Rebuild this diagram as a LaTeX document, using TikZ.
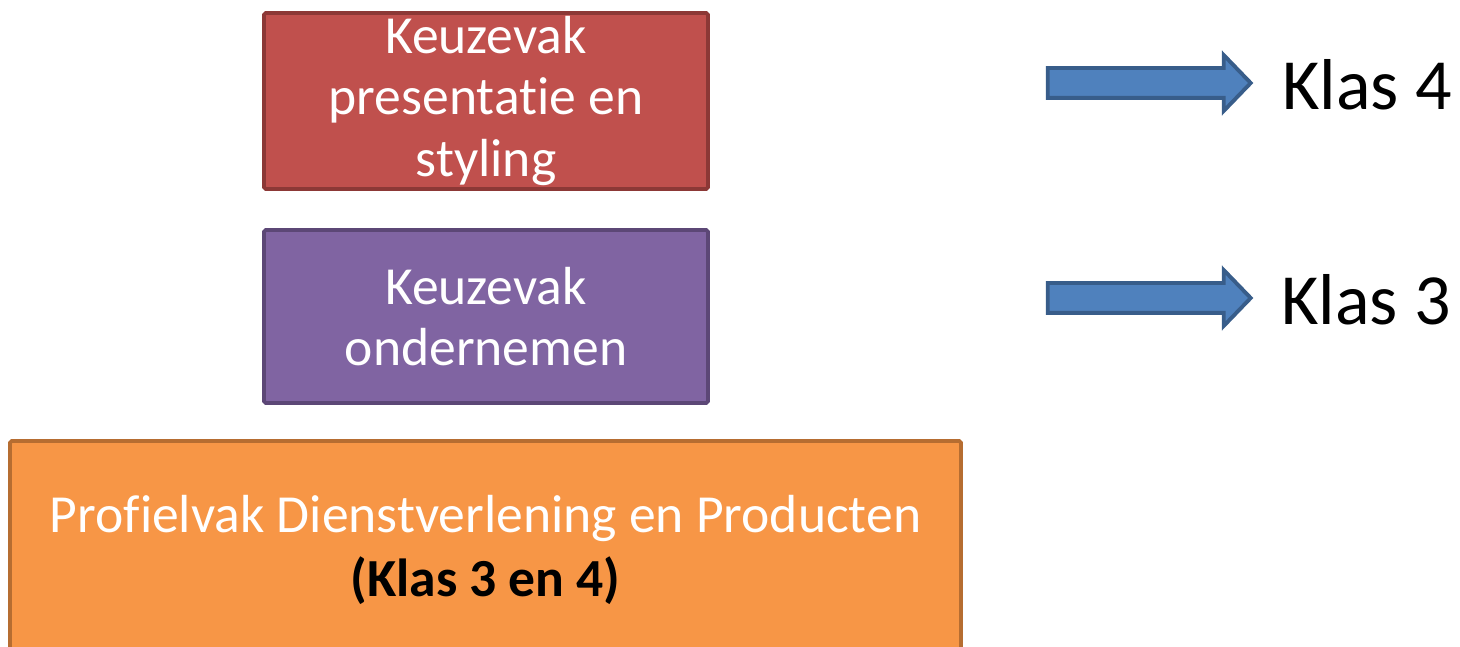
\documentclass[tikz,border=0pt]{standalone}
\usepackage{fontspec}
\setmainfont[Ligatures=NoCommon]{Carlito}
\usetikzlibrary{shapes.arrows, positioning}
\definecolor{vakred}{HTML}{C0504D}
\definecolor{vakreddark}{HTML}{8C3836}
\definecolor{vakpurple}{HTML}{8064A2}
\definecolor{vakpurpledark}{HTML}{5C4776}
\definecolor{vakorange}{HTML}{F79646}
\definecolor{vakorangedark}{HTML}{B66D31}
\definecolor{arrowblue}{HTML}{4F81BD}
\definecolor{arrowbluedark}{HTML}{385D8A}

\tikzset{
  vakbox/.style={rectangle, line width=2.2pt, rounded corners=1pt, align=center, text=white,
    font=\fontsize{30.5}{35}\selectfont, inner sep=0pt},
  klasarrow/.style={single arrow, fill=arrowblue, draw=arrowbluedark, line width=2.2pt,
    minimum height=4.06cm, minimum width=1.08cm, inner xsep=0pt, inner ysep=0.26cm,
    single arrow head extend=0.26cm, single arrow tip angle=92},
  klaslabel/.style={anchor=west, font=\fontsize{41}{41}\selectfont, inner sep=0pt}
}

\begin{document}
\begin{tikzpicture}
  % Page frame
  \useasboundingbox (0,0) rectangle (29.2,-12.94);

  % Keuzevakken
  \node[vakbox, fill=vakred, draw=vakreddark, minimum width=8.88cm, minimum height=3.52cm]
    (styling) at (9.72,-2.02) {Keuzevak\\presentatie en\\styling};
  \node[vakbox, fill=vakpurple, draw=vakpurpledark, minimum width=8.88cm, minimum height=3.46cm]
    (ondernemen) at (9.72,-6.33) {Keuzevak\\ondernemen};

  % Profielvak (runs off the bottom edge)
  \node[vakbox, fill=vakorange, draw=vakorangedark, minimum width=19.02cm, minimum height=4.36cm]
    (profielvak) at (9.71,-11.0)
    {Profielvak Dienstverlening en Producten\\[1pt]{\color{black}\bfseries (Klas 3 en 4)}};

  % Arrows to the years
  \node[klasarrow] (pijlvier) at (22.84,-1.66) {};
  \node[klasarrow] (pijldrie) at (22.84,-5.96) {};
  \node[klaslabel] (klasvier) at (25.64,-1.70) {Klas 4};
  \node[klaslabel] (klasdrie) at (25.62,-6.00) {Klas 3};
\end{tikzpicture}
\end{document}
